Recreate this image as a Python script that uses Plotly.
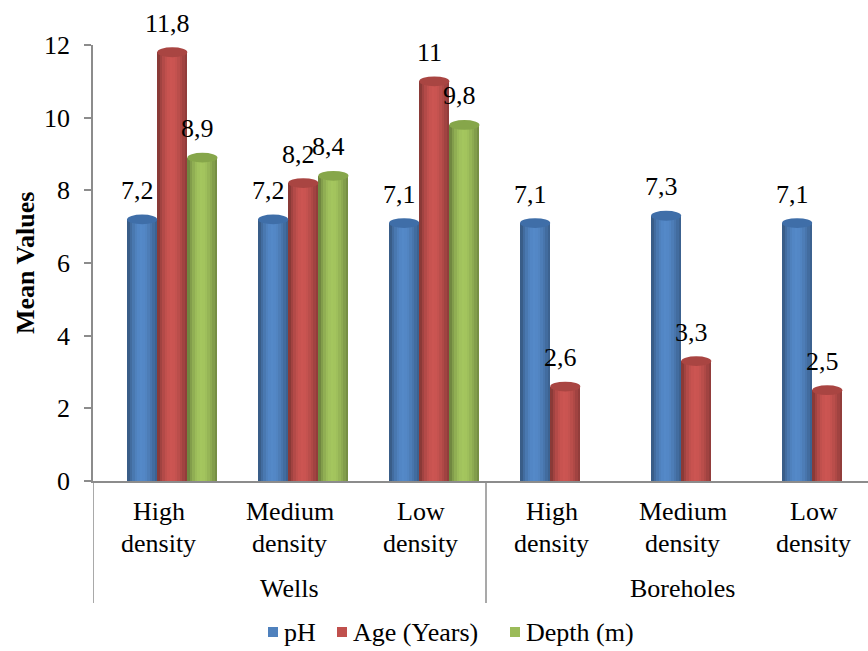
import plotly.graph_objects as go

# ---- data ----
groups = ["Wells", "Boreholes"]
categories = ["High density", "Medium density", "Low density",
              "High density", "Medium density", "Low density"]
series_names = ["pH", "Age (Years)", "Depth (m)"]
ph_values = [7.2, 7.2, 7.1, 7.1, 7.3, 7.1]
age_values = [11.8, 8.2, 11.0, 2.6, 3.3, 2.5]
depth_values = [8.9, 8.4, 9.8, None, None, None]
y_ticks = [0, 2, 4, 6, 8, 10, 12]

series_values = [ph_values, age_values, depth_values]
base_colors = [(79, 129, 189), (192, 80, 77), (155, 187, 89)]
cap_colors = ["#3f6ea8", "#a94542", "#86a64a"]

FONT = "Liberation Serif, Times New Roman, serif"
FS = 26
AXIS_GREY = "#8c8c8c"

# plot-area geometry in pixels (used to place legend items in paper units)
L, R, T, B = 93, 868, 45, 481
PW, PH = R - L, B - T

# geometry of the cylinders (category units)
BAR_W = 0.23
centers = [-0.125, 0.105, 0.335]
N_STRIPS = 12
shade = [0.72, 0.84, 0.93, 1.0, 1.04, 1.06, 1.05, 1.02, 0.97, 0.91, 0.84, 0.76]

x_pos = list(range(len(categories)))


def shaded(rgb, f):
    return "rgb({},{},{})".format(*[max(0, min(255, int(round(c * f)))) for c in rgb])


def px_x(p):
    return (p - L) / PW


def px_y(p):
    return (B - p) / PH


fig = go.Figure()

# cylinder bodies built from thin vertical strips with a shading profile
for s, vals in enumerate(series_values):
    strip_w = BAR_W / N_STRIPS
    for k in range(N_STRIPS):
        fig.add_trace(go.Bar(
            x=x_pos, y=vals, name=series_names[s],
            offset=centers[s] - BAR_W / 2 + k * strip_w,
            width=strip_w * (1.25 if k < N_STRIPS - 1 else 1.0),
            marker=dict(color=shaded(base_colors[s], shade[k]), line=dict(width=0)),
            showlegend=False, hoverinfo="skip",
        ))

shapes = []
annotations = []
CAP_H = 0.27

for s, vals in enumerate(series_values):
    for i, v in zip(x_pos, vals):
        if v is None:
            continue
        cx = i + centers[s]
        # top ellipse of the cylinder
        shapes.append(dict(
            type="circle", xref="x", yref="y",
            x0=cx - BAR_W / 2, x1=cx + BAR_W / 2,
            y0=v - CAP_H / 2, y1=v + CAP_H / 2,
            fillcolor=cap_colors[s], line=dict(width=0), layer="above",
        ))
        # value label
        annotations.append(dict(
            x=cx, y=v, xref="x", yref="y",
            text=("%g" % v).replace(".", ","),
            showarrow=False, xshift=-5, yshift=29,
            font=dict(family=FONT, size=FS, color="black"),
        ))

# category labels (two lines each)
for i, cat in zip(x_pos, categories):
    first, second = cat.split(" ")
    for word, dy in ((first, -30), (second, -62)):
        annotations.append(dict(
            x=i, y=0, xref="x", yref="paper", text=word,
            showarrow=False, yanchor="middle", yshift=dy,
            font=dict(family=FONT, size=FS, color="black"),
        ))

# group labels
for g, name in enumerate(groups):
    annotations.append(dict(
        x=g * 3 + 1, y=0, xref="x", yref="paper", text=name,
        showarrow=False, yanchor="middle", yshift=-107,
        font=dict(family=FONT, size=FS, color="black"),
    ))

# group separators extending below the category axis
for xs in (-0.5, 2.5, 5.5):
    shapes.append(dict(
        type="line", xref="x", yref="paper",
        x0=xs, x1=xs, y0=0, y1=px_y(603),
        line=dict(color=AXIS_GREY, width=1.5), layer="above",
    ))

# y-axis title
annotations.append(dict(
    x=0, y=0.5, xref="paper", yref="paper", text="<b>Mean Values</b>",
    textangle=-90, showarrow=False, xanchor="center", yanchor="middle",
    xshift=-68, font=dict(family=FONT, size=FS, color="black"),
))

# legend: colour key squares followed by series names
legend_left = [268, 337, 510]
LEG_Y = 632
for s, name in enumerate(series_names):
    x0 = legend_left[s]
    shapes.append(dict(
        type="rect", xref="paper", yref="paper",
        x0=px_x(x0), x1=px_x(x0 + 10), y0=px_y(LEG_Y + 5), y1=px_y(LEG_Y - 5),
        fillcolor="rgb({},{},{})".format(*base_colors[s]), line=dict(width=0),
    ))
    annotations.append(dict(
        x=px_x(x0 + 14), y=px_y(LEG_Y), xref="paper", yref="paper",
        text=name, showarrow=False, xanchor="left", yanchor="middle",
        font=dict(family=FONT, size=FS, color="black"),
    ))

fig.update_layout(
    width=868, height=651,
    margin=dict(l=L, r=868 - R, t=T, b=651 - B),
    paper_bgcolor="white", plot_bgcolor="white",
    barmode="overlay", bargap=0, showlegend=False,
    font=dict(family=FONT, size=FS, color="black"),
    shapes=shapes, annotations=annotations,
    xaxis=dict(range=[-0.5, 5.416], showticklabels=False, ticks="",
               showgrid=False, zeroline=False, showline=True,
               linecolor=AXIS_GREY, linewidth=1.5, fixedrange=True),
    yaxis=dict(range=[0, 12], tickvals=y_ticks, ticks="outside", ticklen=7,
               tickcolor=AXIS_GREY, tickwidth=1.5, ticklabelstandoff=9,
               showgrid=False, zeroline=False, showline=True,
               linecolor=AXIS_GREY, linewidth=1.5,
               tickfont=dict(family=FONT, size=FS, color="black")),
)

fig.write_html("out.html")
